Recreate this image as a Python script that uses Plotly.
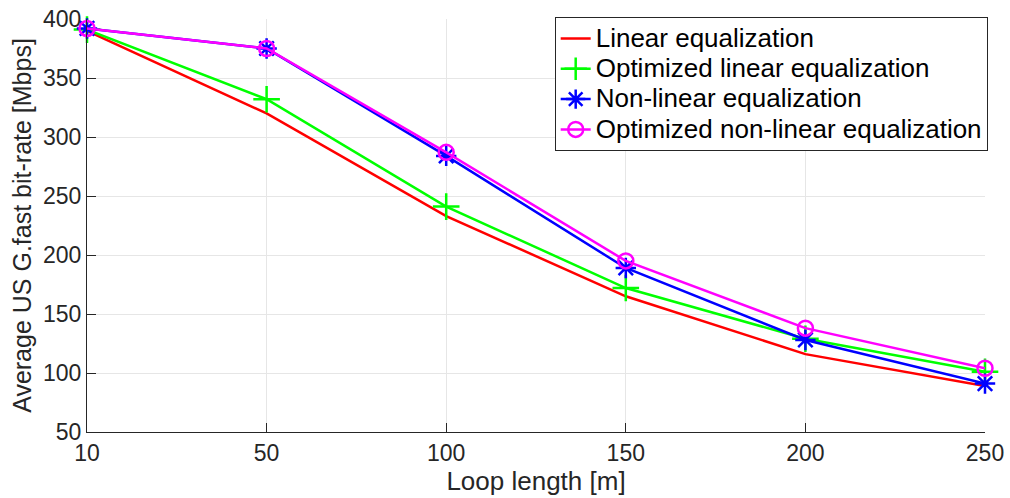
import plotly.graph_objects as go

loop_length = ["10", "50", "100", "150", "200", "250"]
linear_eq = [390, 320, 233, 165, 116, 89]
opt_linear_eq = [391, 332, 241, 172, 129, 101]
nonlinear_eq = [392, 375, 284, 189, 128, 91]
opt_nonlinear_eq = [392, 375, 287, 195, 138, 104]
series_names = ["Linear equalization", "Optimized linear equalization",
                "Non-linear equalization", "Optimized non-linear equalization"]


def legend_label(s):
    return '<span style="font-size:26px">' + s + '</span>'


fig = go.Figure()
fig.add_trace(go.Scatter(x=loop_length, y=linear_eq, mode="lines",
                         name=legend_label(series_names[0]),
                         line=dict(color="#ff0000", width=2.5)))
fig.add_trace(go.Scatter(x=loop_length, y=opt_linear_eq, mode="lines+markers",
                         name=legend_label(series_names[1]),
                         line=dict(color="#00ff00", width=2.5),
                         marker=dict(symbol="cross-thin", size=19,
                                     line=dict(color="#00ff00", width=2.5))))
fig.add_trace(go.Scatter(x=loop_length, y=nonlinear_eq, mode="lines+markers",
                         name=legend_label(series_names[2]),
                         line=dict(color="#0000ff", width=2.5),
                         marker=dict(symbol="asterisk-open", size=17,
                                     line=dict(color="#0000ff", width=2.5))))
fig.add_trace(go.Scatter(x=loop_length, y=opt_nonlinear_eq, mode="lines+markers",
                         name=legend_label(series_names[3]),
                         line=dict(color="#ff00ff", width=2.5),
                         marker=dict(symbol="circle-open", size=15,
                                     line=dict(color="#ff00ff", width=2.5))))
for tr in fig.data:
    tr.cliponaxis = False

fig.update_layout(
    width=1010, height=498,
    margin=dict(l=87, r=25, t=19, b=66, autoexpand=False),
    paper_bgcolor="white", plot_bgcolor="white",
    font=dict(family="Liberation Sans, Arial, sans-serif", color="#262626", size=23),
    showlegend=True,
    legend=dict(x=1.003, xanchor="right", y=1.004, yanchor="top",
                bgcolor="white", bordercolor="#262626", borderwidth=1,
                font=dict(size=21, color="black"),
                tracegroupgap=0, itemwidth=30),
    xaxis=dict(type="category", range=[0, 5], automargin=False,
               showgrid=True, gridcolor="#e6e6e6", gridwidth=1,
               showline=True, linecolor="#262626", linewidth=1,
               ticks="inside", ticklen=9, tickcolor="#262626",
               tickfont=dict(size=23),
               title=dict(text="Loop length [m]", font=dict(size=26), standoff=2),
               zeroline=False),
    yaxis=dict(range=[50, 400], tickvals=[50, 100, 150, 200, 250, 300, 350, 400],
               automargin=False,
               showgrid=True, gridcolor="#e6e6e6", gridwidth=1,
               showline=True, linecolor="#262626", linewidth=1,
               ticks="inside", ticklen=9, tickcolor="#262626",
               tickfont=dict(size=23),
               title=dict(text="Average US G.fast bit-rate [Mbps]", font=dict(size=25), standoff=4),
               zeroline=False),
)
fig.write_html("out.html")
